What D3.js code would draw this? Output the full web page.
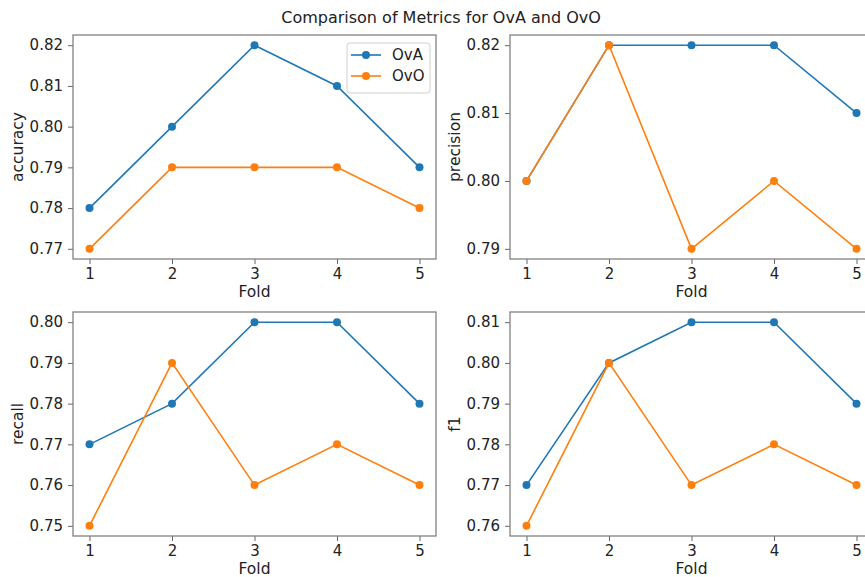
<!DOCTYPE html>
<html>
<head>
<meta charset="utf-8">
<script src="https://cdn.jsdelivr.net/npm/d3@7"></script>
<style>
  body { margin: 0; background: #fff; }
  text { font-family: "DejaVu Sans", sans-serif; fill: #222; }
</style>
</head>
<body>
<div id="chart"></div>
<script>
// data
var folds = [1, 2, 3, 4, 5];
var metricNames = ["accuracy", "precision", "recall", "f1"];
var seriesNames = ["OvA", "OvO"];

var accuracyOvA = [0.78, 0.80, 0.82, 0.81, 0.79];
var accuracyOvO = [0.77, 0.79, 0.79, 0.79, 0.78];
var precisionOvA = [0.80, 0.82, 0.82, 0.82, 0.81];
var precisionOvO = [0.80, 0.82, 0.79, 0.80, 0.79];
var recallOvA = [0.77, 0.78, 0.80, 0.80, 0.78];
var recallOvO = [0.75, 0.79, 0.76, 0.77, 0.76];
var f1OvA = [0.77, 0.80, 0.81, 0.81, 0.79];
var f1OvO = [0.76, 0.80, 0.77, 0.78, 0.77];

var colors = ["#1f77b4", "#ff7f0e"];

// svg setup
var svgWidth = 865;
var svgHeight = 577;

var svg = d3
  .select("#chart")
  .append("svg")
  .attr("width", svgWidth)
  .attr("height", svgHeight);

// figure title
svg
  .append("text")
  .attr("x", 441)
  .attr("y", 23)
  .attr("text-anchor", "middle")
  .style("font-size", "16px")
  .text("Comparison of Metrics for OvA and OvO");

// panel boxes (left, top) - same size for every panel
var panelW = 363;
var panelH = 224;
var panels = [
  { metric: metricNames[0], left: 73, top: 35, values: [accuracyOvA, accuracyOvO], legend: true },
  { metric: metricNames[1], left: 510, top: 35, values: [precisionOvA, precisionOvO] },
  { metric: metricNames[2], left: 73, top: 312, values: [recallOvA, recallOvO] },
  { metric: metricNames[3], left: 510, top: 312, values: [f1OvA, f1OvO] },
];

// x scale is the same for all, matplotlib pads 5% each side
var xPad = (d3.max(folds) - d3.min(folds)) * 0.05;
var xScale = d3
  .scaleLinear()
  .domain([d3.min(folds) - xPad, d3.max(folds) + xPad])
  .range([0, panelW]);

panels.forEach(function (p) {
  var g = svg.append("g").attr("transform", `translate(${p.left}, ${p.top})`);

  var all = p.values[0].concat(p.values[1]);
  var lo = d3.min(all);
  var hi = d3.max(all);
  var yPad = (hi - lo) * 0.05;
  var yScale = d3
    .scaleLinear()
    .domain([lo - yPad, hi + yPad])
    .range([panelH, 0]);

  // tick values at every 0.01
  var yTicks = d3.range(Math.round(lo * 100), Math.round(hi * 100) + 1).map((v) => v / 100);

  var bottomAxis = d3.axisBottom(xScale).tickValues(folds).tickFormat(d3.format("d")).tickSize(5).tickPadding(4);
  var leftAxis = d3.axisLeft(yScale).tickValues(yTicks).tickFormat(d3.format(".2f")).tickSize(5).tickPadding(5);

  var xAxis = g.append("g").attr("transform", `translate(0, ${panelH})`).call(bottomAxis);
  var yAxis = g.append("g").call(leftAxis);

  [xAxis, yAxis].forEach(function (ax) {
    ax.select(".domain").remove();
    ax.selectAll("line").attr("stroke", "#666").attr("stroke-width", 1);
    ax.selectAll("text").style("font-size", "15px").attr("fill", "#222");
  });

  // frame
  g.append("rect")
    .attr("width", panelW)
    .attr("height", panelH)
    .attr("fill", "none")
    .attr("stroke", "#777")
    .attr("stroke-width", 1.2);

  // lines + markers
  var line = d3
    .line()
    .x((d, i) => xScale(folds[i]))
    .y((d) => yScale(d));

  p.values.forEach(function (vals, s) {
    g.append("path")
      .datum(vals)
      .attr("d", line)
      .attr("fill", "none")
      .attr("stroke", colors[s])
      .attr("stroke-width", 1.6);

    g.selectAll(".dot" + s)
      .data(vals)
      .enter()
      .append("circle")
      .attr("cx", (d, i) => xScale(folds[i]))
      .attr("cy", (d) => yScale(d))
      .attr("r", 4)
      .attr("fill", colors[s]);
  });

  // axis labels
  g.append("text")
    .attr("x", panelW / 2)
    .attr("y", panelH + 38)
    .attr("text-anchor", "middle")
    .style("font-size", "15.5px")
    .text("Fold");

  g.append("text")
    .attr("transform", "rotate(-90)")
    .attr("x", -panelH / 2)
    .attr("y", -50)
    .attr("text-anchor", "middle")
    .style("font-size", "15.5px")
    .text(p.metric);

  // legend only in first panel
  if (p.legend) {
    var lg = g.append("g").attr("transform", `translate(${panelW - 89}, 8)`);
    lg.append("rect")
      .attr("width", 83)
      .attr("height", 50)
      .attr("rx", 3)
      .attr("fill", "#fff")
      .attr("fill-opacity", 0.8)
      .attr("stroke", "#d0d0d0");

    seriesNames.forEach(function (name, s) {
      var row = lg.append("g").attr("transform", `translate(0, ${12 + s * 21})`);
      row.append("line")
        .attr("x1", 4)
        .attr("x2", 34)
        .attr("stroke", colors[s])
        .attr("stroke-width", 1.6);
      row.append("circle").attr("cx", 19).attr("r", 4).attr("fill", colors[s]);
      row.append("text")
        .attr("x", 45)
        .attr("dy", "0.35em")
        .style("font-size", "15px")
        .text(name);
    });
  }
});
</script>
</body>
</html>
